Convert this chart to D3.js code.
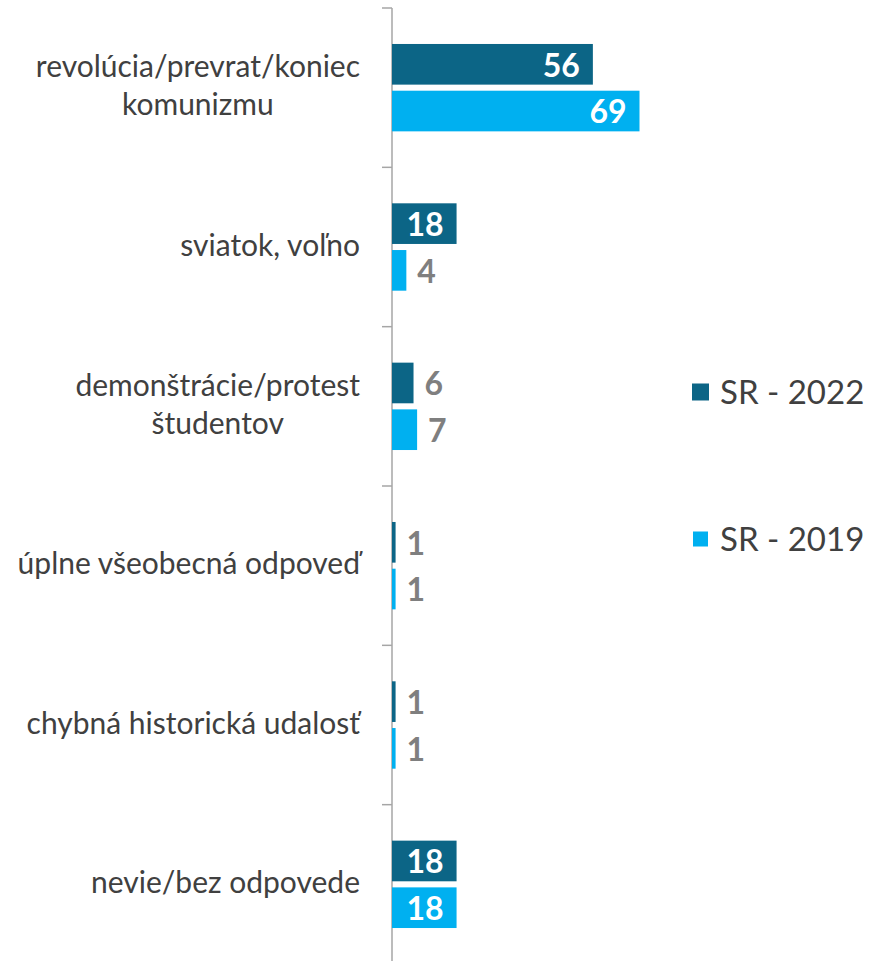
<!DOCTYPE html>
<html>
<head>
<meta charset="utf-8">
<script src="https://cdn.jsdelivr.net/npm/d3@7"></script>
<style>
  html, body { margin: 0; padding: 0; background: #fff; }
  svg { display: block; }
</style>
</head>
<body>
<svg id="chart" width="879" height="961"></svg>
<script>
// ---- data ----
const categories = [
  "revolúcia/prevrat/koniec komunizmu",
  "sviatok, voľno",
  "demonštrácie/protest študentov",
  "úplne všeobecná odpoveď",
  "chybná historická udalosť",
  "nevie/bez odpovede"
];
const categoryLines = [
  ["revolúcia/prevrat/koniec", "komunizmu"],
  ["sviatok, voľno"],
  ["demonštrácie/protest", "študentov"],
  ["úplne všeobecná odpoveď"],
  ["chybná historická udalosť"],
  ["nevie/bez odpovede"]
];
const seriesNames = ["SR - 2022", "SR - 2019"];
const values2022 = [56, 18, 6, 1, 1, 18];
const values2019 = [69, 4, 7, 1, 1, 18];
const seriesValues = [values2022, values2019];
const seriesColors = ["#0c6586", "#00b0f0"];

// ---- layout ----
const svg = d3.select("#chart");
const axisX = 392;
const y0 = d3.scaleBand().domain(categories).range([8, 964]).padding(0);
const y1 = d3.scaleBand().domain(seriesNames).range([0, y0.bandwidth()])
  .paddingInner(0.13).paddingOuter(0.77);
const x = d3.scaleLinear().domain([0, 69]).range([axisX, 639.5]);

// axis line + ticks at category boundaries
const axisG = svg.append("g");
axisG.append("line")
  .attr("x1", axisX).attr("x2", axisX)
  .attr("y1", y0.range()[0]).attr("y2", y0.range()[1])
  .attr("stroke", "#a6a6a6").attr("stroke-width", 1.5);
const tickYs = categories.map(c => y0(c)).concat([y0.range()[1]]);
axisG.selectAll("line.tick").data(tickYs).enter().append("line")
  .attr("class", "tick")
  .attr("x1", axisX - 10).attr("x2", axisX)
  .attr("y1", d => d).attr("y2", d => d)
  .attr("stroke", "#a6a6a6").attr("stroke-width", 1.5);

// category labels (multi-line blocks centred, right edge at 360)
const labG = svg.append("g")
  .attr("font-family", "Lato, 'Open Sans', sans-serif")
  .attr("font-size", 30).attr("fill", "#404040");
const rightEdge = 360;
categories.forEach((c, i) => {
  const lines = categoryLines[i];
  const cy = y0(c) + y0.bandwidth() / 2;
  const lh = 38;
  const t = labG.append("text").attr("text-anchor", "middle");
  const spans = lines.map((ln, j) => t.append("tspan")
      .attr("y", cy + (j - (lines.length - 1) / 2) * lh - 2)
      .attr("dy", "0.35em")
      .text(ln));
  const maxW = d3.max(spans, s => s.node().getComputedTextLength());
  spans.forEach(s => s.attr("x", rightEdge - maxW / 2));
});

// bars
const rows = [];
categories.forEach((c, i) => {
  seriesNames.forEach((s, k) => {
    rows.push({ cat: c, series: s, k: k, value: seriesValues[k][i] });
  });
});
svg.append("g").selectAll("rect").data(rows).enter().append("rect")
  .attr("x", x(0))
  .attr("y", d => y0(d.cat) + y1(d.series))
  .attr("width", d => x(d.value) - x(0))
  .attr("height", y1.bandwidth())
  .attr("fill", d => seriesColors[d.k]);

// value labels
svg.append("g").selectAll("text").data(rows).enter().append("text")
  .attr("font-family", "Lato, 'Open Sans', sans-serif")
  .attr("font-weight", "bold")
  .attr("font-size", 32)
  .attr("x", d => d.value >= 10 ? x(d.value) - 13 : x(d.value) + 11)
  .attr("y", d => y0(d.cat) + y1(d.series) + y1.bandwidth() / 2 + 1)
  .attr("dy", "0.35em")
  .attr("text-anchor", d => d.value >= 10 ? "end" : "start")
  .attr("fill", d => d.value >= 10 ? "#ffffff" : "#7f7f7f")
  .text(d => d.value);

// legend
const legendY = [392, 539];
const legendSq = [17, 15];
const lg = svg.append("g");
seriesNames.forEach((s, k) => {
  lg.append("rect")
    .attr("x", 700.5 - legendSq[k] / 2)
    .attr("y", legendY[k] - legendSq[k] / 2)
    .attr("width", legendSq[k]).attr("height", legendSq[k])
    .attr("fill", seriesColors[k]);
  lg.append("text")
    .attr("x", 720)
    .attr("y", legendY[k])
    .attr("dy", "0.36em")
    .attr("font-family", "Lato, 'Open Sans', sans-serif")
    .attr("font-size", 33)
    .attr("fill", "#404040")
    .text(s);
});
</script>
</body>
</html>
